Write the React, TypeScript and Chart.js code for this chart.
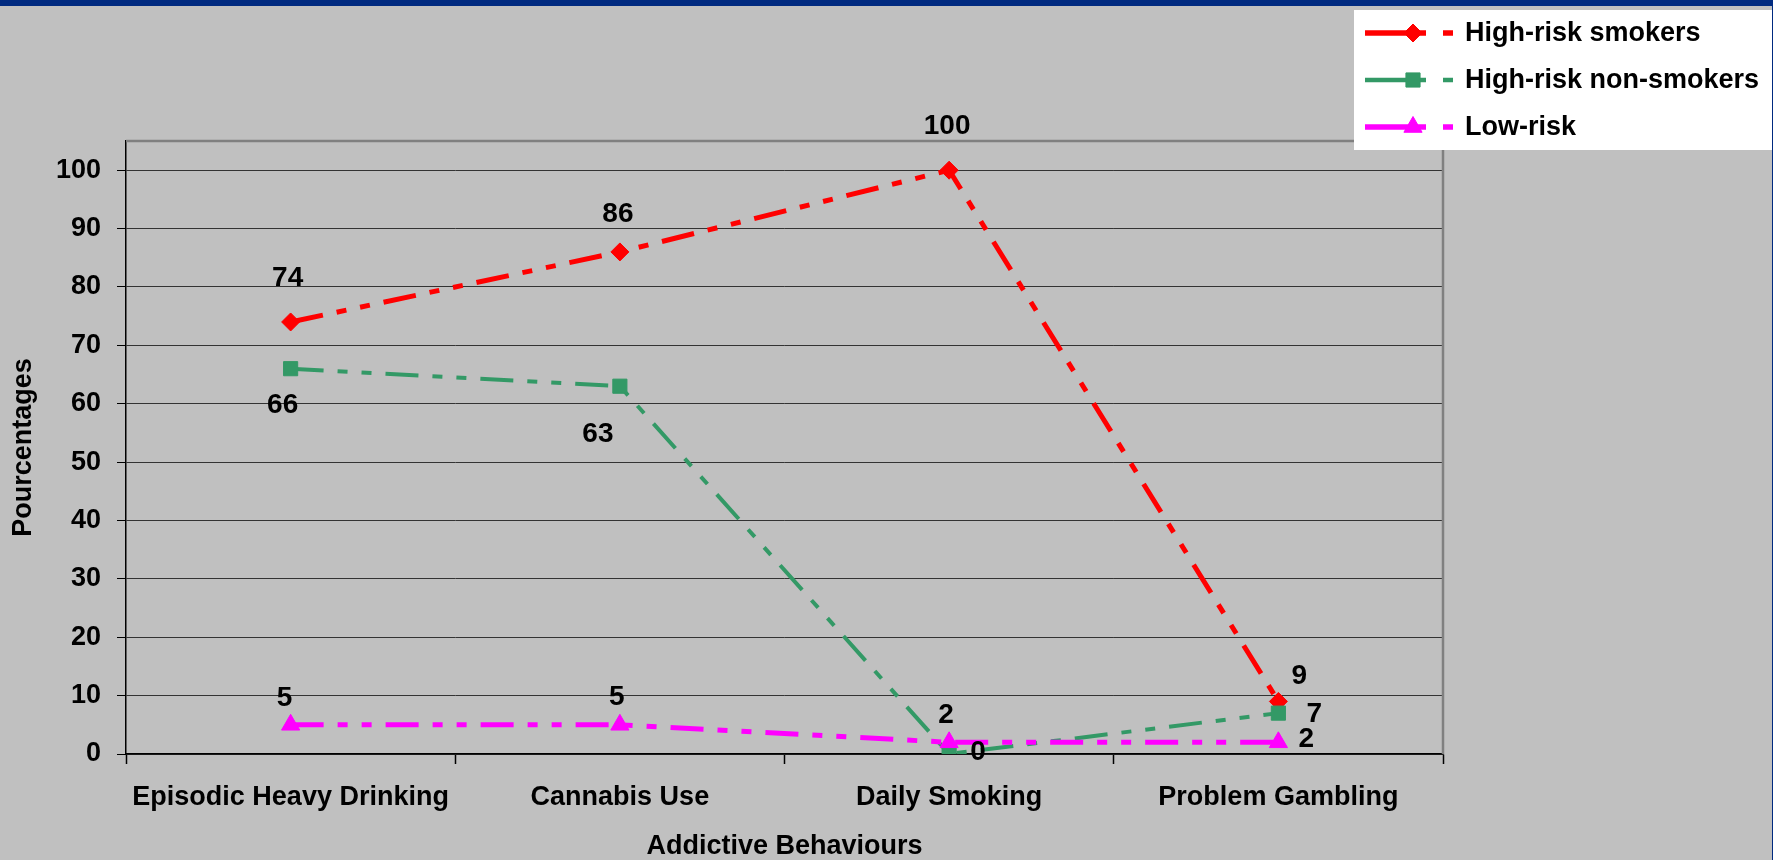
import React, { useEffect, useRef } from 'react';
import { Chart, registerables } from 'chart.js';

Chart.register(...registerables);

// ---------- data ----------
const categories = ['Episodic Heavy Drinking', 'Cannabis Use', 'Daily Smoking', 'Problem Gambling'];
const highRiskSmokers = [74, 86, 100, 9];
const highRiskNonSmokers = [66, 63, 0, 7];
const lowRisk = [5, 5, 2, 2];
const seriesNames = ['High-risk smokers', 'High-risk non-smokers', 'Low-risk'];
const yTickValues = [0, 10, 20, 30, 40, 50, 60, 70, 80, 90, 100];
const yAxisTitle = 'Pourcentages';
const xAxisTitle = 'Addictive Behaviours';
const yMin = 0;
const yMax = 105;

// ---------- styles ----------
const FONT = "'Liberation Sans', Arial, Helvetica, sans-serif";
const W = 1773;
const H = 860;
const BG = '#C0C0C0';
const NAVY = '#002A80';
const colors = ['#FF0000', '#339966', '#FF00FF'];
const lineWidths = [5, 4, 5];
const pointStyles = ['rectRot', 'rect', 'triangle'];
const pointRadii = [9, 10, 10.5];
const dashPattern = [33, 14, 10, 14, 10, 14];

// label offsets (px) relative to each point
const labelOffsets = [
  [[-3, -44], [-2, -38], [-2, -44], [21, -25]],
  [[-8, 37], [-22, 48], [29, -2], [36, 1]],
  [[-6, -27], [-3, -28], [-3, -27], [28, -3]],
];

function drawMarker(ctx: CanvasRenderingContext2D, style: string, x: number, y: number, r: number, color: string) {
  ctx.save();
  ctx.fillStyle = color;
  ctx.strokeStyle = color;
  ctx.lineWidth = 1;
  ctx.setLineDash([]);
  ctx.beginPath();
  if (style === 'rectRot') {
    ctx.moveTo(x, y - r);
    ctx.lineTo(x + r, y);
    ctx.lineTo(x, y + r);
    ctx.lineTo(x - r, y);
  } else if (style === 'rect') {
    const s = r * Math.SQRT1_2;
    ctx.rect(x - s, y - s, 2 * s, 2 * s);
  } else {
    const a = (2 * Math.PI) / 3;
    ctx.moveTo(x, y - r);
    ctx.lineTo(x + Math.sin(a) * r, y - Math.cos(a) * r);
    ctx.lineTo(x + Math.sin(2 * a) * r, y - Math.cos(2 * a) * r);
  }
  ctx.closePath();
  ctx.fill();
  ctx.stroke();
  ctx.restore();
}

const backgroundPlugin = {
  id: 'bgPlugin',
  beforeDraw(chart: any) {
    const ctx = chart.ctx as CanvasRenderingContext2D;
    ctx.save();
    ctx.fillStyle = BG;
    ctx.fillRect(0, 0, chart.width, chart.height);
    ctx.fillStyle = NAVY;
    ctx.fillRect(0, 0, chart.width, 6);
    ctx.fillRect(chart.width - 1, 0, 1, chart.height);
    ctx.restore();
  },
  beforeDatasetsDraw(chart: any) {
    const ctx = chart.ctx as CanvasRenderingContext2D;
    const a = chart.chartArea;
    ctx.save();
    ctx.strokeStyle = '#808080';
    ctx.lineWidth = 2.5;
    ctx.beginPath();
    ctx.moveTo(a.left, a.top);
    ctx.lineTo(a.right, a.top);
    ctx.lineTo(a.right, a.bottom);
    ctx.stroke();
    ctx.restore();
  },
};

const labelPlugin = {
  id: 'labelPlugin',
  afterDatasetsDraw(chart: any) {
    const ctx = chart.ctx as CanvasRenderingContext2D;
    ctx.save();
    ctx.fillStyle = '#000';
    ctx.font = `bold 28px ${FONT}`;
    ctx.textAlign = 'center';
    ctx.textBaseline = 'middle';
    chart.data.datasets.forEach((ds: any, d: number) => {
      const meta = chart.getDatasetMeta(d);
      meta.data.forEach((pt: any, i: number) => {
        const off = labelOffsets[d][i];
        ctx.fillText(String(ds.data[i]), pt.x + off[0], pt.y + off[1]);
      });
    });
    ctx.restore();
  },
};

const legendPlugin = {
  id: 'customLegend',
  afterDraw(chart: any) {
    const ctx = chart.ctx as CanvasRenderingContext2D;
    ctx.save();
    ctx.fillStyle = '#FFFFFF';
    ctx.fillRect(1354, 10, 418, 140);
    const rows = [33, 80, 127];
    seriesNames.forEach((name, i) => {
      const y = rows[i];
      ctx.strokeStyle = colors[i];
      ctx.lineWidth = lineWidths[i] + 0.5;
      ctx.setLineDash([]);
      ctx.lineCap = 'butt';
      ctx.beginPath();
      ctx.moveTo(1365, y);
      ctx.lineTo(1426, y);
      ctx.moveTo(1443, y);
      ctx.lineTo(1453, y);
      ctx.stroke();
      drawMarker(ctx, pointStyles[i], 1413, y, pointRadii[i], colors[i]);
      ctx.fillStyle = '#000';
      ctx.font = `bold 27px ${FONT}`;
      ctx.textAlign = 'left';
      ctx.textBaseline = 'middle';
      ctx.fillText(name, 1465, y + 1);
    });
    ctx.restore();
  },
};

export default function App() {
  const canvasRef = useRef<HTMLCanvasElement | null>(null);

  useEffect(() => {
    document.body.style.margin = '0';
    const canvas = canvasRef.current;
    if (!canvas) return;
    const seriesData = [highRiskSmokers, highRiskNonSmokers, lowRisk];
    const tickFont = { family: FONT, size: 27, weight: 'bold' as const };
    const chart = new Chart(canvas, {
      type: 'line',
      data: {
        labels: categories,
        datasets: seriesData.map((vals, i) => ({
          label: seriesNames[i],
          data: vals,
          borderColor: colors[i],
          backgroundColor: colors[i],
          borderWidth: lineWidths[i],
          borderDash: dashPattern,
          borderCapStyle: 'butt' as const,
          tension: 0,
          fill: false,
          pointStyle: pointStyles[i] as any,
          pointRadius: pointRadii[i],
          pointBorderWidth: 1,
          pointBackgroundColor: colors[i],
          pointBorderColor: colors[i],
          order: 3 - i,
        })),
      },
      options: {
        responsive: false,
        animation: false,
        devicePixelRatio: 1,
        events: [],
        layout: { padding: { top: 141, right: W - 1443, left: 0, bottom: 0 } },
        plugins: { legend: { display: false }, tooltip: { enabled: false } },
        scales: {
          x: {
            type: 'category',
            offset: true,
            grid: {
              offset: true,
              drawOnChartArea: false,
              drawTicks: true,
              tickLength: 10,
              tickColor: '#000',
              tickWidth: 1.5,
            },
            border: { display: true, color: '#000', width: 1.5 },
            ticks: { color: '#000', font: tickFont, padding: 17, maxRotation: 0, autoSkip: false },
            title: {
              display: true,
              text: xAxisTitle,
              color: '#000',
              font: { family: FONT, size: 27, weight: 'bold', lineHeight: 1 },
              padding: { top: 0, bottom: 0 },
            },
            afterFit: (s: any) => {
              s.height = H - 754;
            },
          },
          y: {
            min: yMin,
            max: yMax,
            ticks: { color: '#000', font: tickFont, padding: 16, autoSkip: false },
            afterBuildTicks: (s: any) => {
              s.ticks = yTickValues.map((v) => ({ value: v }));
            },
            grid: {
              color: '#333',
              lineWidth: 1,
              drawTicks: true,
              tickLength: 9,
              tickColor: '#000',
            },
            border: { display: true, color: '#000', width: 1.5 },
            title: {
              display: true,
              text: yAxisTitle,
              color: '#000',
              font: { family: FONT, size: 27, weight: 'bold' },
              padding: { top: 7, bottom: 0 },
            },
            afterFit: (s: any) => {
              s.width = 126;
            },
          },
        },
      },
      plugins: [backgroundPlugin, labelPlugin, legendPlugin],
    });
    return () => chart.destroy();
  }, []);

  return (
    <div style={{ width: W, height: H, background: BG, overflow: 'hidden' }}>
      <canvas ref={canvasRef} width={W} height={H} style={{ display: 'block', width: W, height: H }} />
    </div>
  );
}
